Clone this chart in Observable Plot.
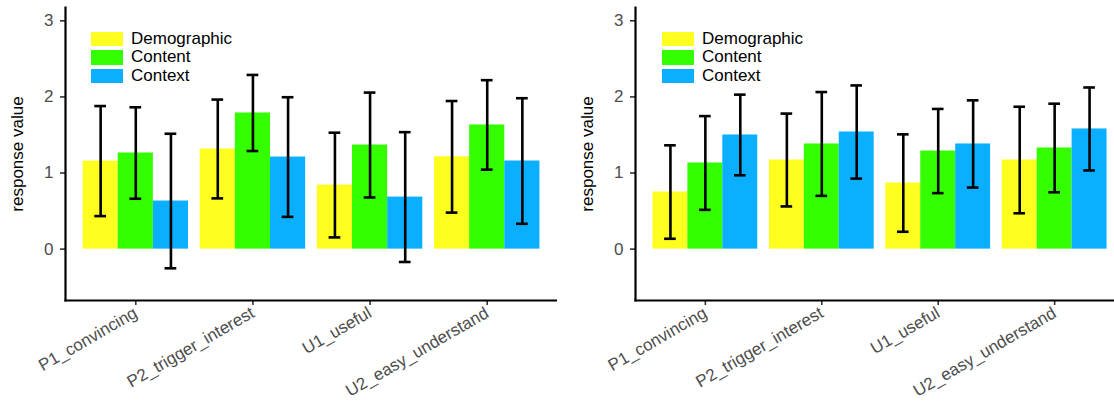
<!DOCTYPE html>
<html>
<head>
<meta charset="utf-8">
<script src="https://cdn.jsdelivr.net/npm/d3@7"></script>
<script src="https://cdn.jsdelivr.net/npm/@observablehq/plot@0.6"></script>
<style>
  html, body { margin: 0; padding: 0; background: #fff; overflow: hidden; }
  #wrap { position: relative; width: 1124px; height: 416px; display: flex; }
  #wrap > svg { flex: none; }
  .legend { position: absolute; font: 17px "Liberation Sans", Arial, sans-serif; color: #000; }
  .legend .row { display: flex; align-items: center; height: 18.5px; }
  .legend .sw { width: 32px; height: 14.5px; margin-right: 8px; }
</style>
</head>
<body>
<div id="wrap"></div>
<script>
// Questionnaire items and explanation types
const questions = ["P1_convincing", "P2_trigger_interest", "U1_useful", "U2_easy_understand"];
const sources = ["Demographic", "Content", "Context"];
const colors = ["#ffff1f", "#33ff00", "#0aafff"];
const yTicks = [0, 1, 2, 3];

// Left panel: mean response and error half-width per item
const leftDemographicMean = [1.157, 1.316, 0.842, 1.213];
const leftDemographicErr  = [0.723, 0.649, 0.688, 0.733];
const leftContentMean     = [1.263, 1.789, 1.368, 1.632];
const leftContentErr      = [0.601, 0.500, 0.689, 0.588];
const leftContextMean     = [0.632, 1.210, 0.684, 1.158];
const leftContextErr      = [0.884, 0.786, 0.853, 0.825];

// Right panel
const rightDemographicMean = [0.750, 1.171, 0.868, 1.171];
const rightDemographicErr  = [0.614, 0.610, 0.640, 0.700];
const rightContentMean     = [1.132, 1.382, 1.289, 1.329];
const rightContentErr      = [0.616, 0.682, 0.553, 0.582];
const rightContextMean     = [1.500, 1.539, 1.382, 1.579];
const rightContextErr      = [0.530, 0.612, 0.573, 0.545];

// Dodged layout: each item occupies 0.9 units, split evenly among the sources
const groupWidth = 0.9;
const barWidth = groupWidth / sources.length;
const capWidth = 0.1;

function rowsFor(means, errs) {
  const rows = [];
  sources.forEach((s, j) => questions.forEach((q, i) => {
    const center = i + 1 + (j - (sources.length - 1) / 2) * barWidth;
    rows.push({q, s, m: means[j][i], e: errs[j][i], center,
      x1: center - barWidth / 2, x2: center + barWidth / 2});
  }));
  return rows;
}

function panel(rows, width, marginLeft) {
  return Plot.plot({
    width, height: 416,
    marginLeft, marginRight: 0, marginTop: 7, marginBottom: 116,
    style: {fontFamily: "'Liberation Sans', Arial, sans-serif", fontSize: "17px", color: "#4d4d4d", background: "#fff"},
    x: {domain: [0.4, questions.length + 0.6]},
    y: {domain: [-0.675, 3.175]},
    color: {domain: sources, range: colors},
    marks: [
      Plot.rectY(rows, {x1: "x1", x2: "x2", y1: 0, y2: "m", fill: "s"}),
      Plot.ruleX(rows, {x: "center", y1: d => d.m - d.e, y2: d => d.m + d.e, stroke: "#000", strokeWidth: 2.6}),
      Plot.ruleY(rows, {x1: d => d.center - capWidth / 2, x2: d => d.center + capWidth / 2, y: d => d.m - d.e, stroke: "#000", strokeWidth: 2.6}),
      Plot.ruleY(rows, {x1: d => d.center - capWidth / 2, x2: d => d.center + capWidth / 2, y: d => d.m + d.e, stroke: "#000", strokeWidth: 2.6}),
      Plot.axisY({ticks: yTicks, tickFormat: d3.format("d"), tickSize: 5, tickPadding: 7, stroke: "#333", strokeWidth: 1.6,
        label: null, fill: "#4d4d4d"}),
      Plot.axisY({ticks: [], label: "response value", labelAnchor: "center", labelArrow: "none", labelOffset: 55, fill: "#000"}),
      Plot.axisX({ticks: questions.map((q, i) => i + 1), tickFormat: i => questions[i - 1],
        tickSize: 5, tickPadding: 6, tickRotate: -30, textAnchor: "end",
        stroke: "#333", strokeWidth: 1.6, label: null, fill: "#4d4d4d"}),
      Plot.frame({anchor: "left", stroke: "#000", strokeWidth: 2.2}),
      Plot.frame({anchor: "bottom", stroke: "#000", strokeWidth: 2.2})
    ]
  });
}

function legend(left, top) {
  const div = document.createElement("div");
  div.className = "legend";
  div.style.left = left + "px";
  div.style.top = top + "px";
  sources.forEach((s, i) => {
    const row = document.createElement("div");
    row.className = "row";
    const sw = document.createElement("span");
    sw.className = "sw";
    sw.style.background = colors[i];
    const t = document.createElement("span");
    t.textContent = s;
    row.append(sw, t);
    div.append(row);
  });
  return div;
}

const wrap = document.getElementById("wrap");
wrap.append(panel(rowsFor(
  [leftDemographicMean, leftContentMean, leftContextMean],
  [leftDemographicErr, leftContentErr, leftContextErr]), 557, 65));
wrap.append(panel(rowsFor(
  [rightDemographicMean, rightContentMean, rightContextMean],
  [rightDemographicErr, rightContentErr, rightContextErr]), 567, 78));
wrap.append(legend(91, 29.5));
wrap.append(legend(662, 29.5));
</script>
</body>
</html>
